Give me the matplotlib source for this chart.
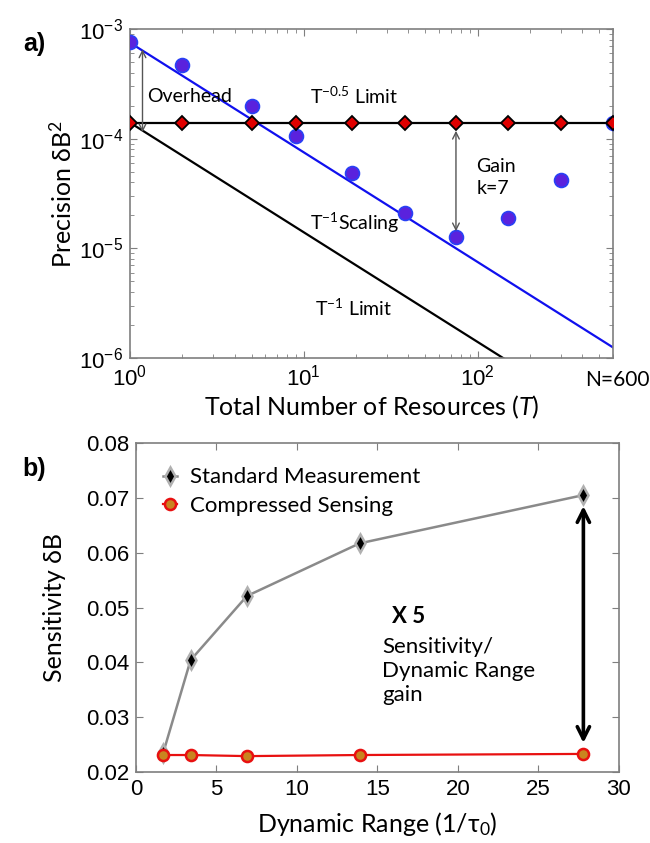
import numpy as np
import matplotlib.pyplot as plt
from matplotlib.ticker import LogLocator, NullFormatter, MultipleLocator

plt.rcParams['font.family'] = ['Liberation Sans', 'DejaVu Sans']
plt.rcParams['mathtext.fontset'] = 'custom'
plt.rcParams['mathtext.rm'] = 'Lato'
plt.rcParams['mathtext.it'] = 'Lato:italic'
LBL = ['Lato', 'DejaVu Sans']

# ── panel a data ──────────────────────────────────────────────────────────────
T_res = [1, 2, 5, 9, 19, 38, 75, 150, 300, 600]
prec_cs = [7.6e-4, 4.7e-4, 2.0e-4, 1.05e-4, 4.9e-5, 2.1e-5, 1.28e-5, 1.9e-5, 4.2e-5, 1.4e-4]
prec_std = [1.4e-4] * len(T_res)
scale_ref = 7.5e-4     # T^-1 scaling prefactor
limit_ref = 1.4e-4     # T^-1 limit prefactor

# ── panel b data ──────────────────────────────────────────────────────────────
dyn_range = [1.7, 3.4, 6.9, 13.9, 27.8]
sens_std = [0.0235, 0.0404, 0.0521, 0.0617, 0.0705]
sens_cs = [0.0231, 0.0231, 0.0229, 0.0231, 0.0233]

fig = plt.figure(figsize=(6.5, 8.43), dpi=100)
ax1 = fig.add_axes([0.200, 0.5753, 0.743, 0.3903])
ax2 = fig.add_axes([0.209, 0.0842, 0.743, 0.3903])

spine_col = '#7f7f7f'
for ax in (ax1, ax2):
    for s in ax.spines.values():
        s.set_color(spine_col)
        s.set_linewidth(1.2)
    ax.tick_params(which='both', direction='in', top=True, right=True,
                   color=spine_col, labelsize=16, pad=5)
    ax.tick_params(which='major', length=5)
    ax.tick_params(which='minor', length=3)

# ── panel a ──────────────────────────────────────────────────────────────────
Tl = np.array([1, 600])
ax1.loglog(Tl, scale_ref / Tl, color='#1010ee', lw=1.6, zorder=2)
ax1.loglog(Tl, limit_ref / Tl, color='black', lw=1.6, zorder=2)
ax1.loglog(T_res, prec_std, color='black', lw=1.6, zorder=3)
ax1.loglog(T_res, prec_cs, 'o', ms=10, mfc='#5a22dd', mec='#2840f5', mew=1.2,
           ls='none', zorder=4)
ax1.loglog(T_res, prec_std, 'D', ms=7.5, mfc='#e00000', mec='black', mew=1.3,
           ls='none', zorder=5)
ax1.set_xlim(1, 600)
ax1.set_ylim(1e-6, 1e-3)
ax1.xaxis.set_major_locator(LogLocator(base=10, numticks=10))
ax1.yaxis.set_major_locator(LogLocator(base=10, numticks=10))
ax1.xaxis.set_minor_locator(LogLocator(base=10, subs=np.arange(2, 10), numticks=10))
ax1.yaxis.set_minor_locator(LogLocator(base=10, subs=np.arange(2, 10), numticks=10))
ax1.xaxis.set_minor_formatter(NullFormatter())
ax1.yaxis.set_minor_formatter(NullFormatter())

arr = dict(arrowstyle='<->', color='#555555', lw=1.0, mutation_scale=12)
ax1.annotate('', xy=(1.18, 6.9e-4), xytext=(1.18, 1.08e-4), arrowprops=arr, zorder=6)
ax1.annotate('', xy=(75, 1.25e-4), xytext=(75, 1.35e-5), arrowprops=arr, zorder=6)

tf = dict(family=LBL, fontsize=14)
ax1.text(1.26, 2.4e-4, 'Overhead', va='center', ha='left', **tf)
ax1.text(10.8, 2.45e-4, r'T$^{\mathrm{-0.5}}$ Limit', va='center', ha='left', **tf)
ax1.text(98, 5.6e-5, 'Gain', va='center', ha='left', **tf)
ax1.text(98, 3.5e-5, 'k=7', va='center', ha='left', **tf)
ax1.text(10.8, 1.7e-5, r'T$^{\mathrm{-1}}$Scaling', va='center', ha='left', **tf)
ax1.text(11.6, 2.85e-6, r'T$^{\mathrm{-1}}$ Limit', va='center', ha='left', **tf)
ax1.text(1.075, -0.035, 'N=600', transform=ax1.transAxes, ha='right', va='top',
         family=LBL, fontsize=15)

ax1.set_xlabel('Total Number of Resources ($T$)', family=LBL, fontsize=18, labelpad=2)
ax1.set_ylabel(r'Precision δB$^{\mathrm{2}}$', family=LBL, fontsize=18, labelpad=2)

# ── panel b ──────────────────────────────────────────────────────────────────
ax2.plot(dyn_range, sens_std, color='#8a8a8a', lw=1.8, marker='d', ms=9,
         mfc='black', mec='#b0b0b0', mew=1.8, label='Standard Measurement', zorder=3)
ax2.plot(dyn_range, sens_cs, color='#e81010', lw=1.6, marker='o', ms=8,
         mfc='#c9841f', mec='#e81010', mew=1.8, label='Compressed Sensing', zorder=4)
ax2.set_xlim(0, 30)
ax2.set_ylim(0.02, 0.08)
ax2.xaxis.set_major_locator(MultipleLocator(5))
ax2.yaxis.set_major_locator(MultipleLocator(0.01))
ax2.yaxis.set_major_formatter(plt.FormatStrFormatter('%.2f'))

ax2.annotate('', xy=(27.8, 0.0690), xytext=(27.8, 0.0248),
             arrowprops=dict(arrowstyle='<->', color='black', lw=2.6,
                             mutation_scale=22), zorder=6)
ax2.text(15.9, 0.0483, 'X 5', family=LBL, fontsize=16, fontweight='bold',
         va='center', ha='left')
ax2.text(15.3, 0.0446, 'Sensitivity/\nDynamic Range\ngain', family=LBL,
         fontsize=16, va='top', ha='left', linespacing=1.25)

leg = ax2.legend(loc='upper left', frameon=False, prop=dict(family=LBL, size=16),
                 handlelength=0.6, handletextpad=0.6, borderaxespad=0.4,
                 labelspacing=0.4, bbox_to_anchor=(0.02, 0.98))
ax2.set_xlabel('Dynamic Range (1/τ$_{\\mathrm{0}}$)', family=LBL, fontsize=18, labelpad=7)
ax2.set_ylabel('Sensitivity δB', family=LBL, fontsize=18, labelpad=14)

fig.text(0.035, 0.94, 'a)', fontsize=18, fontweight='bold', family=['Liberation Sans'])
fig.text(0.035, 0.435, 'b)', fontsize=18, fontweight='bold', family=['Liberation Sans'])

fig.savefig('out.png', dpi=100)
